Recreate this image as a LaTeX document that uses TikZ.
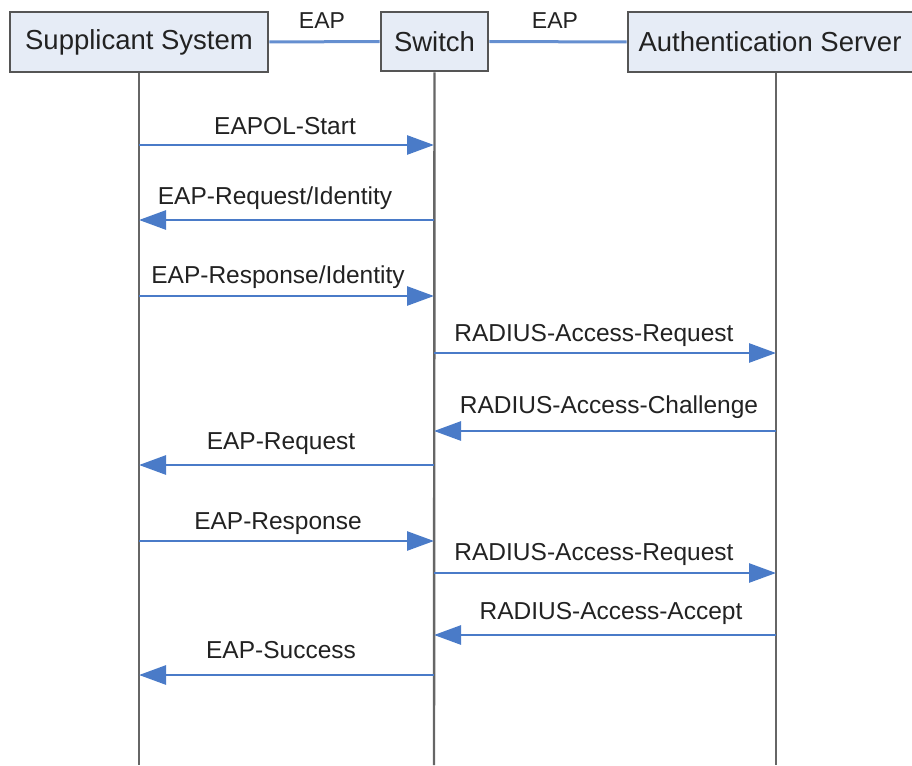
\documentclass[tikz,border=0pt]{standalone}
\usepackage{fontspec}
\setmainfont{Liberation Sans}
\usetikzlibrary{arrows.meta,calc}
\definecolor{boxfill}{HTML}{E6ECF6}
\definecolor{boxline}{HTML}{555555}
\definecolor{msgblue}{HTML}{4A7BC8}
\definecolor{lifegray}{HTML}{666666}
\definecolor{txt}{HTML}{222222}
\begin{document}
\begin{tikzpicture}[x=1pt,y=-1pt,
  entity/.style={draw=boxline,fill=boxfill,line width=2.6pt,inner sep=0pt,
    text=txt,font=\fontsize{27.5}{32}\selectfont},
  lifeline/.style={draw=lifegray,line width=2.4pt},
  link/.style={draw=msgblue!85!white,line width=3pt},
  msg/.style={draw=msgblue,line width=2.7pt,-{Triangle[length=27pt,width=19pt]}},
  lbl/.style={text=txt,font=\fontsize{24.5}{29}\selectfont,anchor=base,inner sep=0pt},
  hlbl/.style={text=txt,font=\fontsize{23}{27}\selectfont,inner sep=0pt}]
\useasboundingbox (0,0) rectangle (912,765);
% entities
\node[entity,minimum width=258pt,minimum height=60pt] (sup) at (139,42) {Supplicant System};
\node[entity,minimum width=107pt,minimum height=59pt] (sw) at (434.5,41.5) {Switch};
\node[entity,minimum width=296pt,minimum height=60pt] (auth) at (776,42) {\hspace*{-12pt}Authentication Server};
% header links
\draw[link] (sup.east) -- (sw.west);
\draw[link] (sw.east) -- (auth.west);
\node[hlbl] (eap1) at (322,21) {EAP};
\node[hlbl] (eap2) at (555,21) {EAP};
% lifelines
\coordinate (supB) at (139,765);
\coordinate (swB) at (434,765);
\coordinate (authB) at (776,765);
\draw[lifeline] (sup.south) -- (supB);
\draw[lifeline] (sw.south) -- (swB);
\draw[lifeline] (auth.south) -- (authB);
% message anchor points
\foreach \n/\y in {1/145,2/220,3/296,4/353,5/431,6/465,7/541,8/573,9/635,10/675}{
  \coordinate (s\n) at (139,\y);
  \coordinate (w\n) at (434,\y);
  \coordinate (a\n) at (776,\y);
}
\draw[msg] (s1) -- (w1);
\draw[msg] (w2) -- (s2);
\draw[msg] (s3) -- (w3);
\draw[msg] (w4) -- (a4);
\draw[msg] (a5) -- (w5);
\draw[msg] (w6) -- (s6);
\draw[msg] (s7) -- (w7);
\draw[msg] (w8) -- (a8);
\draw[msg] (a9) -- (w9);
\draw[msg] (w10) -- (s10);
% labels
\node[lbl] (l1) at (285,134) {EAPOL-Start};
\node[lbl] (l2) at (275,204) {EAP-Request/Identity};
\node[lbl] (l3) at (278,283) {EAP-Response/Identity};
\node[lbl] (l4) at (594,341) {RADIUS-Access-Request};
\node[lbl] (l5) at (609,413) {RADIUS-Access-Challenge};
\node[lbl] (l6) at (281,449) {EAP-Request};
\node[lbl] (l7) at (278,529) {EAP-Response};
\node[lbl] (l8) at (594,560) {RADIUS-Access-Request};
\node[lbl] (l9) at (611,619) {RADIUS-Access-Accept};
\node[lbl] (l10) at (281,658) {EAP-Success};
\end{tikzpicture}
\end{document}
